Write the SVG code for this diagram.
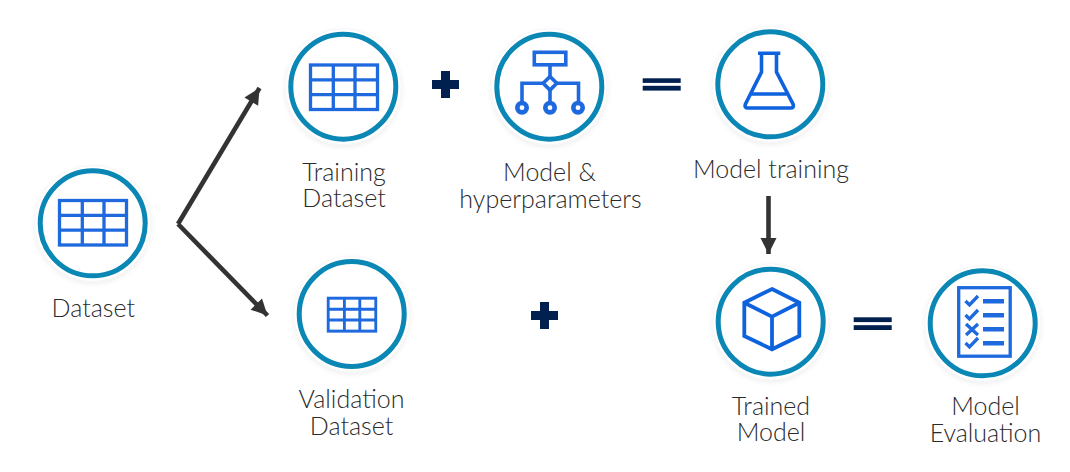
<svg xmlns="http://www.w3.org/2000/svg" width="1070" height="472" viewBox="0 0 1070 472">
<style>
text{font-family:"Lato","Open Sans","Liberation Sans",sans-serif;font-weight:300;font-size:25px;fill:#2b2b2b;text-anchor:middle}
.halo{fill:#fff;stroke:#f6f6f6;stroke-width:1;filter:url(#sh)}
.ring{fill:#fff;stroke:#0a87b5;stroke-width:5}
.ic{fill:none;stroke:#1e69de;stroke-width:3.3}
.ln{stroke:#333;stroke-width:4.6;fill:none}
.mk{fill:#002050}
</style>
<defs>
<filter id="sh" x="-20%" y="-20%" width="140%" height="140%">
<feDropShadow dx="0" dy="2" stdDeviation="2.500" flood-color="#000" flood-opacity=".07"/>
</filter>
<marker id="ah" markerUnits="userSpaceOnUse" markerWidth="20" markerHeight="20" refX="17" refY="9" orient="auto">
<path d="M1 1L17 9L1 17z" fill="#333"/>
</marker>
<g id="tbl"><rect x="0" y="0" width="67" height="44.500" /><path d="M22.800 0V44.500M44.500 0V44.500M0 14.800H67M0 29.600H67"/></g>
<g id="ok"><path d="M0 -1L4 3L12.500 -6"/></g>
</defs>
<g id="connectors">
<path class="ln" d="M178 224L259.500 88" marker-end="url(#ah)"/>
<path class="ln" d="M178 224L267.500 315.500" marker-end="url(#ah)"/>
<path class="ln" d="M768.500 196V254" marker-end="url(#ah)"/>
</g>
<g id="dataset">
<circle class="halo" cx="92.700" cy="223.300" r="58"/>
<circle class="ring" cx="92.700" cy="223.300" r="52.500"/>
<use href="#tbl" class="ic" x="59.500" y="200.500"/>
<text x="93.300" y="316.500">Dataset</text>
</g>
<g id="training-dataset">
<circle class="halo" cx="343.300" cy="86.700" r="58"/>
<circle class="ring" cx="343.300" cy="86.700" r="52.500"/>
<use href="#tbl" class="ic" x="310.500" y="65"/>
<text x="344" y="181">Training</text>
<text x="344" y="207">Dataset</text>
</g>
<g id="validation-dataset">
<circle class="halo" cx="351.700" cy="314" r="58"/>
<circle class="ring" cx="351.700" cy="314" r="52.500"/>
<use href="#tbl" class="ic" transform="translate(328.200 298.200) scale(.71 .74)" style="stroke-width:4"/>
<text x="351.500" y="408">Validation</text>
<text x="351.500" y="435">Dataset</text>
</g>
<g id="plus-1" class="mk"><path d="M441 71h9v9h9v9h-9v9h-9v-9h-9v-9h9z"/></g>
<g id="model-hyperparameters">
<circle class="halo" cx="549.300" cy="86.700" r="58"/>
<circle class="ring" cx="549.300" cy="86.700" r="52.500"/>
<rect class="ic" x="534.300" y="52.300" width="31.500" height="12.500" style="stroke-width:3.600"/>
<path class="ic" d="M550 66V77M550 90V101M543.500 83.300H522V101M556.500 83.300H578.500V101" style="stroke-width:3.600"/>
<path class="ic" d="M550 76.500L556.800 83.300L550 90.100L543.200 83.300z" style="stroke-width:3.600"/>
<circle class="ic" cx="522" cy="107.700" r="4.700" style="stroke-width:4.600"/>
<circle class="ic" cx="550" cy="107.700" r="4.700" style="stroke-width:4.600"/>
<circle class="ic" cx="578" cy="107.700" r="4.700" style="stroke-width:4.600"/>
<text x="549.500" y="181">Model &amp;</text>
<text x="550.500" y="208">hyperparameters</text>
</g>
<g id="equals-1" class="mk"><rect x="642.700" y="78.300" width="38" height="4.600"/><rect x="642.700" y="85.800" width="38" height="4.800"/></g>
<g id="model-training">
<circle class="halo" cx="770.300" cy="84.300" r="58"/>
<circle class="ring" cx="770.300" cy="84.300" r="52.500"/>
<path class="ic" d="M758 53.300H780.300M761.500 53.300V72L745.500 104Q744 108 748 108H790.500Q794.500 108 793 104L776.500 72V53.300M750 94H789" style="stroke:#0f62de;stroke-width:3.600"/>
<text x="771" y="178.300">Model training</text>
</g>
<g id="plus-2" class="mk"><path d="M540 302h9v9h9v9h-9v9h-9v-9h-9v-9h9z"/></g>
<g id="trained-model">
<circle class="halo" cx="770.700" cy="321.700" r="58"/>
<circle class="ring" cx="770.700" cy="321.700" r="52.500"/>
<path class="ic" d="M772 289L799.300 302.700V336L772 349.300L744.300 336V302.700zM744.300 302.700L772 316.700L799.300 302.700M772 316.700V349.300" style="stroke:#0f62de;stroke-width:3.800"/>
<text x="771" y="415">Trained</text>
<text x="771" y="441.300">Model</text>
</g>
<g id="equals-2" class="mk"><rect x="853.700" y="317.300" width="38" height="4.800"/><rect x="853.700" y="325.200" width="38" height="4.800"/></g>
<g id="model-evaluation">
<circle class="halo" cx="982.700" cy="323.300" r="58"/>
<circle class="ring" cx="982.700" cy="323.300" r="52.500"/>
<rect class="ic" x="958.700" y="287.700" width="51.500" height="68.500"/>
<path d="M983 301.300H1004M983 315.300H1004M983 329.300H1004M983 343.300H1004" stroke="#1e69de" stroke-width="4.500" fill="none"/>
<use href="#ok" class="ic" x="965.500" y="302"/>
<use href="#ok" class="ic" x="965.500" y="316"/>
<path class="ic" d="M966 324L978 335M978 324L966 335"/>
<use href="#ok" class="ic" x="965.500" y="344"/>
<text x="985.500" y="415">Model</text>
<text x="985.500" y="442">Evaluation</text>
</g>
</svg>
